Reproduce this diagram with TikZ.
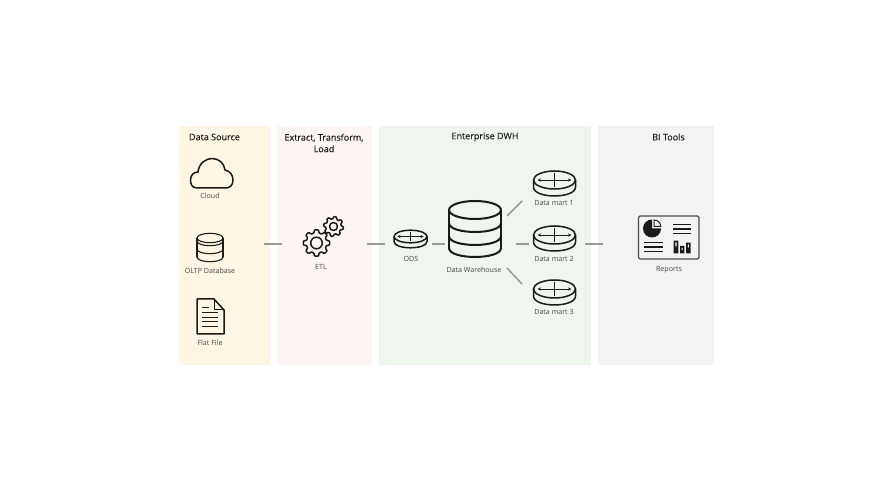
\documentclass[tikz,border=0pt]{standalone}
\usepackage{fontspec}
\setmainfont{Open Sans}
\usetikzlibrary{arrows.meta}
\definecolor{ink}{HTML}{1A1A1A}
\definecolor{panelA}{HTML}{FDF6E4}
\definecolor{panelB}{HTML}{FDF4F4}
\definecolor{panelC}{HTML}{EEF6ED}
\definecolor{panelD}{HTML}{F3F3F3}
\definecolor{linkc}{HTML}{9A9A96}
\tikzset{
  panel/.style={fill=#1,draw=none},
  head/.style={font=\fontsize{9}{11.5}\selectfont\addfontfeatures{FakeBold=0.3},text=black!88,align=center,inner sep=0},
  lbl/.style={font=\fontsize{7.1}{8}\selectfont,text=black!72,inner sep=0},
  link/.style={draw=linkc,line width=1.5pt},
  anchorbox/.style={minimum height=10pt,inner sep=0,outer sep=0,draw=none},
  icon/.style={draw=ink,line width=1.5pt,line join=round,line cap=round},
  iconthin/.style={draw=ink,line width=1.1pt,line join=round,line cap=round},
  iconthick/.style={draw=ink,line width=2pt,line join=round,line cap=round},
  thin/.style={draw=ink,line width=1pt},
  tip/.style={{Stealth[length=3.2pt,width=3.2pt]}-{Stealth[length=3.2pt,width=3.2pt]}}
}
% disk: cx, cy of the top ellipse, rx, ry, depth
\newcommand{\diskicon}[5]{%
  \pgfmathsetmacro{\dl}{#1-#3}\pgfmathsetmacro{\dr}{#1+#3}
  \pgfmathsetmacro{\db}{#2+#5}\pgfmathsetmacro{\dc}{#2+#5+1.33*#4}
  \draw[icon] (#1,#2) ellipse [x radius=#3,y radius=#4];
  \draw[icon] (\dl,#2) -- (\dl,\db) .. controls (\dl,\dc) and (\dr,\dc) .. (\dr,\db) -- (\dr,#2);
  \pgfmathsetmacro{\ax}{#1-0.8*#3}\pgfmathsetmacro{\bx}{#1+0.8*#3}
  \pgfmathsetmacro{\ay}{#2-0.78*#4}\pgfmathsetmacro{\by}{#2+0.78*#4}
  \draw[thin,tip,line width=.8pt] (\ax,#2) -- (\bx,#2);
  \draw[thin,line width=.8pt] (#1,\ay) -- (#1,\by);
}
% stack: cx, top cy, rx, ry, style, list of band y
\newcommand{\stackicon}[6]{%
  \pgfmathsetmacro{\dl}{#1-#3}\pgfmathsetmacro{\dr}{#1+#3}
  \draw[#5] (#1,#2) ellipse [x radius=#3,y radius=#4];
  \foreach \yy in {#6}{
    \pgfmathsetmacro{\dc}{\yy+1.33*#4}
    \draw[#5] (\dl,\yy) .. controls (\dl,\dc) and (\dr,\dc) .. (\dr,\yy);
  }
}
% gear: cx, cy, outer R, root r, hole r, phase
\newcommand{\gearicon}[6]{%
  \draw[icon,rounded corners=.8pt] ({#1+#4*cos(#6-14)},{#2+#4*sin(#6-14)})
    \foreach \k in {0,...,7}{
      -- ({#1+#4*cos(#6+45*\k-14)},{#2+#4*sin(#6+45*\k-14)})
      -- ({#1+#3*cos(#6+45*\k-9)},{#2+#3*sin(#6+45*\k-9)})
      -- ({#1+#3*cos(#6+45*\k+9)},{#2+#3*sin(#6+45*\k+9)})
      -- ({#1+#4*cos(#6+45*\k+14)},{#2+#4*sin(#6+45*\k+14)})
    } -- cycle;
  \draw[icon] (#1,#2) circle [radius=#5];
}
\begin{document}
\begin{tikzpicture}[x=1pt,y=-1pt]
\useasboundingbox (0,0) rectangle (887,478);
\fill[white] (0,0) rectangle (887,478);
% panels
\path[panel=panelA] (179,126) rectangle (270,365);
\path[panel=panelB] (277,126) rectangle (372,365);
\path[panel=panelC] (379,126) rectangle (591,365);
\path[panel=panelD] (598,126) rectangle (714,365);
% headers
\node[head] (hA) at (214.5,137) {Data Source};
\node[head] (hB) at (324,143) {Extract, Transform,\\Load};
\node[head] (hC) at (485,137) {Enterprise DWH};
\node[head] (hD) at (668.5,137) {BI Tools};
% cloud
\draw[icon] (197,188) .. controls (192,188) and (190.5,184) .. (190.5,180)
  .. controls (190.5,175) and (194,172) .. (198,172)
  .. controls (199,163) and (206,158.5) .. (212,158.5)
  .. controls (219,158.5) and (224,163) .. (225,170)
  .. controls (230,171) and (233,175) .. (233,180)
  .. controls (233,185) and (230,188) .. (226,188) -- cycle;
\node[lbl] (cloud) at (210,195.5) {Cloud};
% OLTP database
\stackicon{210}{238}{13}{4.7}{iconthin}{241,249,257}
\draw[iconthin] (197,238) -- (197,257) (223,238) -- (223,257);
\node[lbl] (oltpt) at (210,271) {OLTP Database};
% flat file
\draw[icon] (197,299) -- (214,299) -- (224,310) -- (224,334) -- (197,334) -- cycle;
\draw[icon,line width=1pt] (214,299) -- (214,310) -- (224,310);
\draw[thin] (202,308) -- (209,308) (202,313) -- (218,313) (202,317.5) -- (218,317.5)
  (202,322) -- (218,322) (202,327) -- (218,327);
\node[lbl] (flat) at (210,342.5) {Flat File};
% gears
\gearicon{316.5}{243}{13.3}{10.3}{5.8}{0}
\gearicon{333.5}{226.5}{10}{7.7}{4}{10}
\node[lbl] (etlt) at (321,266.5) {ETL};
% ODS
\diskicon{410.5}{236.5}{16.5}{6.3}{5}
\node[lbl] (odst) at (411,259) {ODS};
% warehouse
\stackicon{475}{210}{26}{9}{iconthick}{223,236,248}
\draw[iconthick] (449,210) -- (449,248) (501,210) -- (501,248);
\node[lbl] (dwt) at (474,269.5) {Data Warehouse};
% marts
\diskicon{554.5}{180}{21}{9}{7}
\diskicon{554.5}{235}{21}{9}{7}
\diskicon{554.5}{289}{21}{9}{7}
\node[lbl] (m1t) at (554,203.5) {Data mart 1};
\node[lbl] (m2t) at (554,258.5) {Data mart 2};
\node[lbl] (m3t) at (554,311.5) {Data mart 3};
% reports
\draw[iconthin,draw=black!70,line width=1.3pt,rounded corners=1.5pt] (638.5,216) rectangle (699,259);
\fill[ink] (652,228.5) -- (652,219.5) arc [start angle=-90,end angle=-360,radius=9] -- cycle;
\draw[ink,fill=white,line width=1pt] (654,220) -- (654,226.4) -- (660.8,226.4)
  .. controls (660.6,222.6) and (657.8,220.2) .. (654,220) -- cycle;
\draw[ink,line width=1.3pt] (673,224.7) -- (691,224.7) (673,229) -- (691,229) (673,233.3) -- (691,233.3)
  (644,242.7) -- (663,242.7) (644,247) -- (663,247) (644,251.6) -- (663,251.6);
\fill[ink] (673.7,240.7) rectangle (678.3,253.5) (680,246) rectangle (684.3,253.5) (686,242.7) rectangle (690.7,253.5);
\fill[white] (675.4,242.5) rectangle (676.6,246.5) (681.6,248) rectangle (682.7,250) (687.8,244.5) rectangle (688.9,247.5);
\node[lbl] (rept) at (669,270) {Reports};
% invisible anchors for the connectors
\node[anchorbox,minimum width=41pt] (src) at (243.5,244) {};
\node[anchorbox,minimum width=85pt] (etl) at (324.5,244) {};
\node[anchorbox,minimum width=47pt] (ods) at (408.5,244) {};
\node[anchorbox,minimum width=71pt] (dw) at (480.5,244) {};
\node[anchorbox,minimum width=56pt] (m2) at (557,244) {};
\node[anchorbox,minimum width=60pt] (rep) at (633,244) {};
\coordinate (dwne) at (507,216);
\coordinate (dwse) at (507,268);
\coordinate (m1) at (522,201);
\coordinate (m3) at (522,284);
% connectors
\draw[link] (src.east) -- (etl.west);
\draw[link] (etl.east) -- (ods.west);
\draw[link] (ods.east) -- (dw.west);
\draw[link] (dw.east) -- (m2.west);
\draw[link] (m2.east) -- (rep.west);
\draw[link] (dwne) -- (m1);
\draw[link] (dwse) -- (m3);
\end{tikzpicture}
\end{document}
